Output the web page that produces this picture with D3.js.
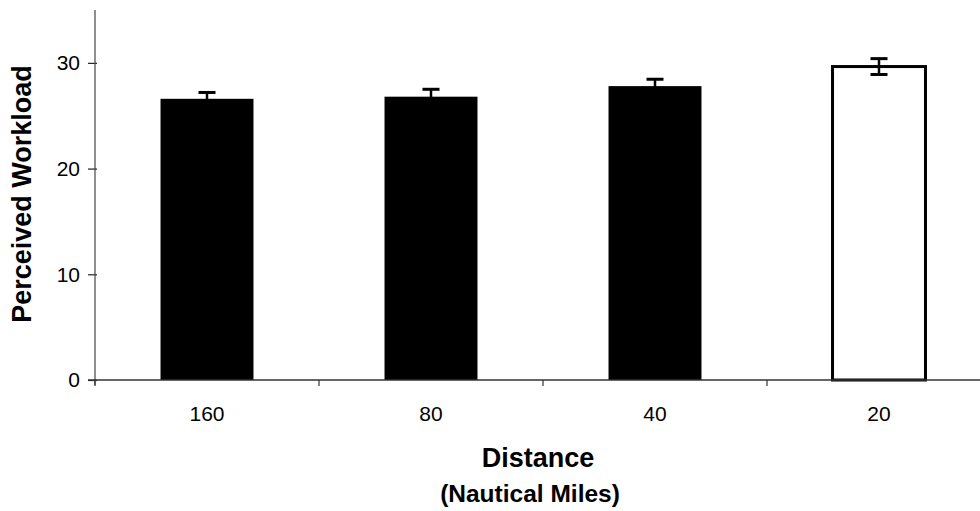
<!DOCTYPE html>
<html>
<head>
<meta charset="utf-8">
<script src="https://cdn.jsdelivr.net/npm/d3@7"></script>
<style>
  body { margin: 0; background: #fff; }
  svg { display: block; font-family: "Liberation Sans", Arial, sans-serif; }
  .title { font-weight: bold; fill: #000; }
</style>
</head>
<body>
<svg id="chart" width="980" height="511"></svg>
<script>
// data
var distancias = ["160", "80", "40", "20"];
var carga = [26.6, 26.8, 27.8, 29.65];
var errores = [0.6, 0.7, 0.65, 0.75];
var rellenos = ["#000", "#000", "#000", "#fff"];
var ticksY = [0, 10, 20, 30];

var datos = distancias.map(function(d, i) {
    return { distancia: d, carga: carga[i], error: errores[i], fill: rellenos[i] };
});

var svg = d3.select("#chart");

var x = d3.scaleBand().domain(distancias).range([95, 991])
          .paddingInner(0.585).paddingOuter(0.2925);
var y = d3.scaleLinear().domain([0, 35]).range([380, 10]);

// bars
svg.selectAll(".bar")
   .data(datos)
   .enter().append("rect")
   .attr("class", "bar")
   .attr("x", function(d) { return x(d.distancia); })
   .attr("y", function(d) { return y(d.carga); })
   .attr("width", x.bandwidth())
   .attr("height", function(d) { return y(0) - y(d.carga); })
   .attr("fill", function(d) { return d.fill; })
   .attr("stroke", "#000")
   .attr("stroke-width", function(d) { return d.fill == "#fff" ? 3 : 0; });

// error bars
var err = svg.selectAll(".err")
   .data(datos)
   .enter().append("g")
   .attr("class", "err")
   .attr("transform", function(d) { return "translate(" + (x(d.distancia) + x.bandwidth() / 2) + ",0)"; });

err.append("line")
   .attr("y1", function(d) { return y(d.carga - d.error); })
   .attr("y2", function(d) { return y(d.carga + d.error); })
   .attr("stroke", "#000").attr("stroke-width", 2.5);

err.append("line")
   .attr("x1", -8.5).attr("x2", 8.5)
   .attr("y1", function(d) { return y(d.carga + d.error); })
   .attr("y2", function(d) { return y(d.carga + d.error); })
   .attr("stroke", "#000").attr("stroke-width", 3);

err.append("line")
   .attr("x1", -8.5).attr("x2", 8.5)
   .attr("y1", function(d) { return y(d.carga - d.error); })
   .attr("y2", function(d) { return y(d.carga - d.error); })
   .attr("stroke", function(d) { return d.fill == "#fff" ? "#000" : "none"; })
   .attr("stroke-width", 3);

// y axis
var ejeY = svg.append("g")
   .attr("transform", "translate(95,0)")
   .call(d3.axisLeft(y).tickValues(ticksY).tickSizeInner(7).tickSizeOuter(0).tickPadding(8));
ejeY.select(".domain").remove();
ejeY.append("line")
   .attr("y1", y(35)).attr("y2", y(0) + 5)
   .attr("stroke", "#444").attr("stroke-width", 1.2);
ejeY.selectAll(".tick line").attr("x2", -7).attr("x1", 2).attr("stroke", "#222").attr("stroke-width", 1.2);
ejeY.selectAll(".tick text")
   .attr("font-size", "21px")
   .attr("font-family", "Liberation Sans, Arial, sans-serif")
   .attr("fill", "#000");

// x axis: line and boundary ticks, labels centred
var ejeX = svg.append("g").attr("transform", "translate(0," + y(0) + ")");
ejeX.append("line")
   .attr("x1", 88).attr("x2", 991)
   .attr("stroke", "#333").attr("stroke-width", 1.4);
var bordes = distancias.map(function(d) { return x(d) - x.step() * x.paddingInner() / 2; });
bordes.push(x.range()[1]);
ejeX.selectAll(".borde")
   .data(bordes)
   .enter().append("line")
   .attr("class", "borde")
   .attr("x1", function(d) { return d; }).attr("x2", function(d) { return d; })
   .attr("y1", 0).attr("y2", 6)
   .attr("stroke", "#333").attr("stroke-width", 1.2);

var etiquetasX = svg.append("g")
   .attr("transform", "translate(0," + y(0) + ")")
   .call(d3.axisBottom(x).tickSize(0).tickPadding(26));
etiquetasX.select(".domain").remove();
etiquetasX.selectAll(".tick text")
   .attr("font-size", "21px")
   .attr("font-family", "Liberation Sans, Arial, sans-serif")
   .attr("fill", "#000");

// axis titles
svg.append("text")
   .attr("class", "title")
   .attr("transform", "translate(31,194) rotate(-90)")
   .attr("text-anchor", "middle")
   .attr("font-size", "27px")
   .text("Perceived Workload");

svg.append("text")
   .attr("class", "title")
   .attr("x", 538).attr("y", 467)
   .attr("text-anchor", "middle")
   .attr("font-size", "27px")
   .text("Distance");

svg.append("text")
   .attr("class", "title")
   .attr("x", 530).attr("y", 502)
   .attr("text-anchor", "middle")
   .attr("font-size", "24.5px")
   .text("(Nautical Miles)");
</script>
</body>
</html>
